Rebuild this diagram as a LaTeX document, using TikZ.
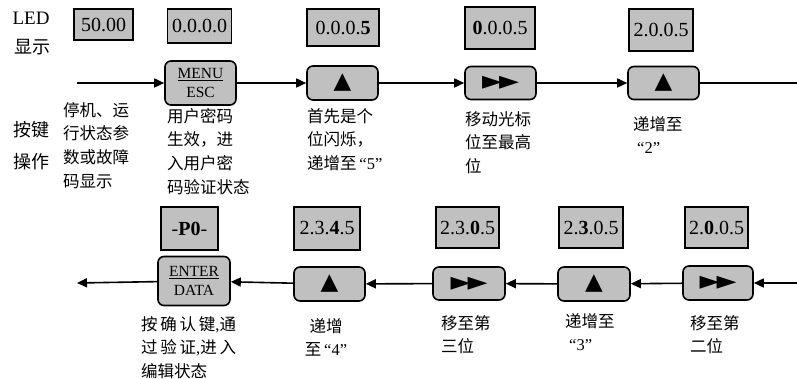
\documentclass[tikz,border=0pt]{standalone}
\usepackage{fontspec}
\setmainfont{Liberation Serif}
\newfontfamily\cjk{Noto Sans CJK SC}
\newfontfamily\symb{DejaVu Sans}
\usepackage{tikz}
\usetikzlibrary{arrows.meta, positioning}
\definecolor{ledgray}{RGB}{192,192,192}
\newcommand{\keyup}{{\symb\fontsize{23}{23}\selectfont ▲}}
\newcommand{\keyrr}{{\symb\fontsize{26}{26}\selectfont ►\kern-3pt►}}

\begin{document}
\begin{tikzpicture}[x=1pt, y=-1pt,
  led/.style={rectangle, draw, line width=1.4pt, fill=ledgray, inner sep=0pt,
              minimum width=64pt, minimum height=40pt, font=\fontsize{20}{20}\selectfont},
  key/.style={rectangle, rounded corners=6pt, draw, line width=1.6pt, fill=ledgray,
              minimum width=71pt, minimum height=34pt, inner sep=0pt, align=center,
              font=\fontsize{15.5}{19}\selectfont},
  note/.style={anchor=north west, inner sep=0pt, align=left,
               font=\cjk\fontsize{16.5}{23.7}\selectfont},
  side/.style={inner sep=0pt, font=\cjk\fontsize{18}{18}\selectfont},
  arr/.style={-{Triangle[length=10pt, width=9pt]}, line width=1.6pt}
]
\useasboundingbox (0,0) rectangle (797,379);

% row titles
\node[side, font=\fontsize{19}{19}\selectfont] (tLed) at (31,18) {LED};
\node[side] (tShow) at (32,47) {显示};
\node[side] (tKey) at (31,130) {按键};
\node[side] (tOp) at (31,162) {操作};

% top row: LED display
\node[led, minimum width=59pt, minimum height=31pt] (d1) at (103.5,24.5) {50.00};
\node[led, minimum height=34pt] (d2) at (199.5,26) {0.0.0.0};
\node[led, minimum width=72pt, minimum height=37pt] (d3) at (343,27.5) {0.0.0.\textbf{5}};
\node[led, minimum width=70pt, minimum height=42pt] (d4) at (500,28) {\textbf{0}.0.0.5};
\node[led, minimum height=42pt] (d5) at (661,30) {2.0.0.5};

% top row: keys
\coordinate (startA) at (77,83);
\coordinate (endA) at (797,83);
\node[key, minimum height=44pt] (kMenu) at (200.5,83) {\underline{MENU}\\ESC};
\node[key] (kUp1) at (342.5,83) {\keyup};
\node[key, minimum height=33pt] (kRr1) at (500.5,83) {\keyrr};
\node[key, minimum height=33pt] (kUp2) at (663.5,83) {\keyup};

\draw[arr] (startA) -- (kMenu);
\draw[arr] (kMenu) -- (kUp1);
\draw[arr] (kUp1) -- (kRr1);
\draw[arr] (kRr1) -- (kUp2);
\draw[line width=1.6pt] (kUp2) -- (endA);

% top row: notes
\node[note] (n1) at (63,102) {停机、运\\行状态参\\数或故障\\码显示};
\node[note] (n2) at (167,108) {用户密码\\生效，进\\入用户密\\码验证状态};
\node[note] (n3) at (307,108) {首先是个\\位闪烁，\\递增至\,{\rmfamily “5”}};
\node[note] (n4) at (465,111) {移动光标\\位至最高\\位};
\node[note] (n5) at (633,116) {递增至\\\hspace{4pt}{\rmfamily “2”}};

% bottom row: LED display
\node[led, minimum width=57pt, minimum height=43pt] (d6) at (189.5,228.5) {-\textbf{P0}-};
\node[led, minimum width=66pt, minimum height=43pt] (d7) at (327,228.5) {2.3.\textbf{4}.5};
\node[led, minimum width=63pt, minimum height=41pt] (d8) at (467.5,227.5) {2.3.\textbf{0}.5};
\node[led, minimum height=41pt] (d9) at (591,227.5) {2.\textbf{3}.0.5};
\node[led, minimum width=63pt, minimum height=41pt] (d10) at (716.5,227.5) {2.\textbf{0}.0.5};

% bottom row: keys
\coordinate (startB) at (797,283);
\coordinate (endB) at (77,283);
\node[key, minimum width=72pt, minimum height=49pt] (kEnter) at (194,281) {\underline{ENTER}\\DATA};
\node[key] (kUp3) at (329.5,284) {\keyup};
\node[key, minimum width=72pt, minimum height=33pt] (kRr2) at (469,283.5) {\keyrr};
\node[key, minimum width=72pt] (kUp4) at (594,284) {\keyup};
\node[key, minimum width=70pt] (kRr3) at (718,283) {\keyrr};

\draw[arr] (startB) -- (kRr3);
\draw[arr] (kRr3) -- (kUp4);
\draw[arr] (kUp4) -- (kRr2);
\draw[arr] (kRr2) -- (kUp3);
\draw[arr] (kUp3) -- (kEnter);
\draw[arr] (kEnter) -- (endB);

% bottom row: notes
\node[note] (n6) at (141,316) {按\,确\,认\,键{\rmfamily ,}通\\过\,验\,证{\rmfamily ,}进\,入\\编辑状态};
\node[note, anchor=north, align=center] (n7) at (326,318) {递增\\至\,{\rmfamily “4”}};
\node[note] (n8) at (441,315) {移至第\\三位};
\node[note] (n9) at (565,313) {递增至\\\hspace{4pt}{\rmfamily “3”}};
\node[note] (n10) at (690,315) {移至第\\二位};
\end{tikzpicture}
\end{document}
